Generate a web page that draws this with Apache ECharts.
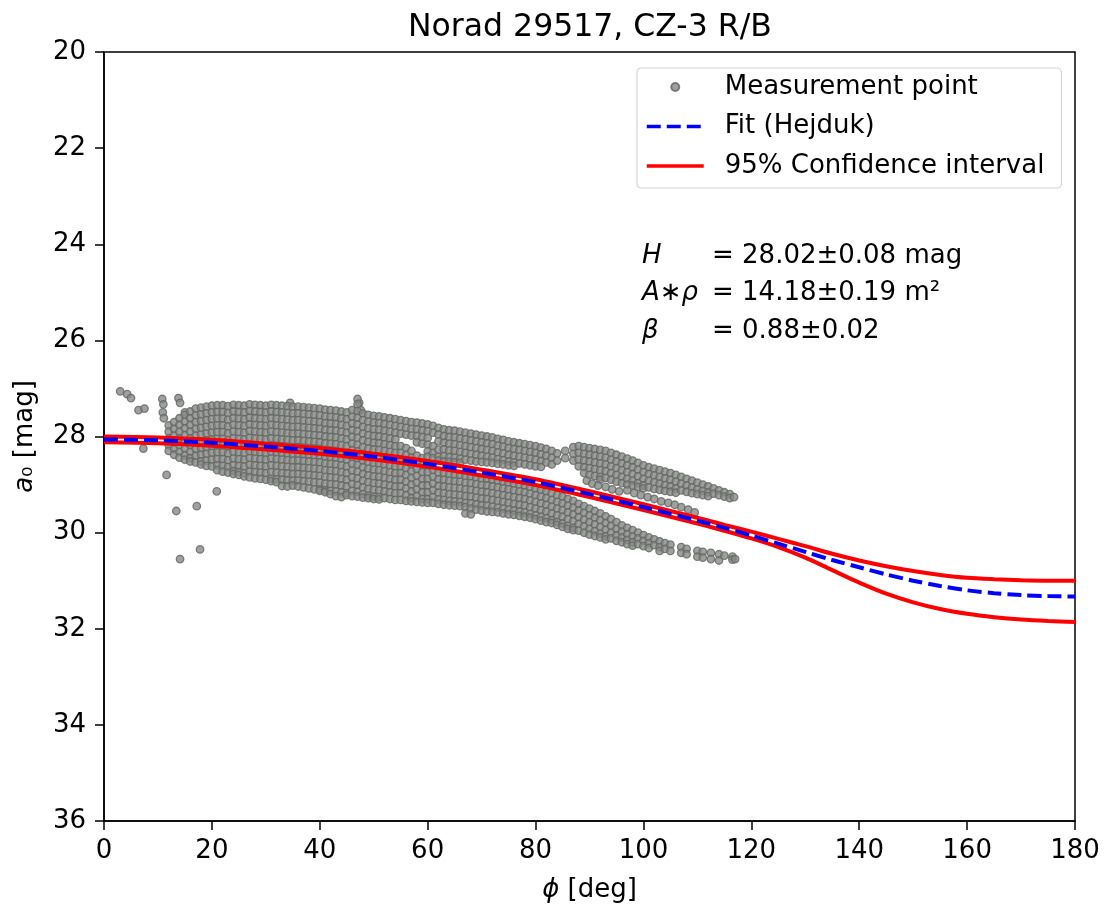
<!DOCTYPE html>
<html><head><meta charset="utf-8">
<script src="https://cdn.jsdelivr.net/npm/echarts@6/dist/echarts.min.js"></script>
<style>html,body{margin:0;padding:0;background:#fff}#chart{width:1104px;height:908px}</style>
</head><body><div id="chart"></div>
<script>
// ---- curve data (phi in deg, a0 in mag) ----
const curvePhi = [0,10,20,30,40,50,60,70,80,90,100,110,115,120,125,130,135,140,145,150,155,160,165,170,175,180];
const fitMag   = [28.06,28.08,28.13,28.21,28.30,28.42,28.57,28.75,28.95,29.20,29.47,29.75,29.90,30.06,30.23,30.40,30.57,30.72,30.87,31.00,31.11,31.20,31.26,31.30,31.32,31.33];
const ciUpper  = [28.00,28.02,28.07,28.15,28.24,28.36,28.51,28.69,28.89,29.14,29.41,29.69,29.84,29.98,30.13,30.28,30.44,30.58,30.70,30.80,30.88,30.94,30.97,30.99,31.00,31.00];
const ciLower  = [28.12,28.14,28.19,28.27,28.36,28.48,28.63,28.81,29.01,29.26,29.53,29.81,29.96,30.12,30.30,30.52,30.78,31.04,31.27,31.45,31.59,31.69,31.76,31.81,31.84,31.86];

// ---- measurement points ----
const outlierPts = [[3.0,27.06],[4.3,27.12],[5.0,27.2],[6.4,27.45],[7.5,27.42],[10.8,27.22],[11.0,27.33],[10.9,27.5],[11.1,27.62],
  [13.8,27.2],[14.1,27.3],[15.0,27.5],[7.3,28.25],[11.6,28.8],[20.9,29.14],[17.2,29.45],[13.4,29.55],[17.8,30.35],[14.1,30.55],
  [34.5,27.3],[47.3,27.3],[47.6,27.45]];
const cloudCols = [
 [12,[27.77,27.9,28.04,28.18,28.3]],
 [13,[27.7,27.84,27.98,28.12,28.26,28.38]],
 [14,[27.62,27.76,27.9,28.04,28.18,28.32,28.44]],
 [15,[27.55,27.69,27.83,27.97,28.11,28.25,28.39,28.48]],
 [16,[27.48,27.62,27.76,27.9,28.04,28.18,28.32,28.45,28.52]],
 [17,[27.42,27.56,27.7,27.84,27.98,28.12,28.26,28.4,28.54]],
 [18,[27.4,27.54,27.68,27.82,27.96,28.1,28.24,28.38,28.52,28.58]],
 [19,[27.38,27.52,27.66,27.8,27.94,28.08,28.22,28.36,28.5,28.61]],
 [20,[27.36,27.5,27.64,27.78,27.92,28.06,28.2,28.34,28.48,28.62]],
 [21,[27.35,27.49,27.63,27.77,27.91,28.05,28.19,28.33,28.47,28.6,28.7]],
 [22,[27.35,27.49,27.63,27.77,27.91,28.05,28.19,28.33,28.47,28.61,28.73]],
 [23,[27.37,27.51,27.65,27.79,27.93,28.07,28.21,28.35,28.49,28.63,28.75]],
 [24,[27.34,27.48,27.62,27.76,27.9,28.04,28.18,28.32,28.46,28.6,28.72,28.78]],
 [25,[27.35,27.49,27.63,27.77,27.91,28.05,28.19,28.33,28.47,28.61,28.74,28.8]],
 [26,[27.36,27.5,27.64,27.78,27.92,28.06,28.2,28.34,28.48,28.62,28.76,28.83]],
 [27,[27.33,27.47,27.61,27.75,27.89,28.03,28.17,28.31,28.45,28.59,28.73,28.85]],
 [28,[27.34,27.48,27.62,27.76,27.9,28.04,28.18,28.32,28.46,28.6,28.74,28.87]],
 [29,[27.35,27.49,27.63,27.77,27.91,28.05,28.19,28.33,28.47,28.61,28.75,28.88]],
 [30,[27.36,27.5,27.64,27.78,27.92,28.06,28.2,28.34,28.48,28.62,28.76,28.9]],
 [31,[27.34,27.48,27.62,27.76,27.9,28.04,28.18,28.32,28.46,28.6,28.74,28.88,28.93]],
 [32,[27.35,27.49,27.63,27.77,27.91,28.05,28.19,28.33,28.47,28.61,28.75,28.89,28.95]],
 [33,[27.36,27.5,27.64,27.78,27.92,28.06,28.2,28.34,28.48,28.62,28.76,28.9,29.03]],
 [34,[27.37,27.51,27.65,27.79,27.93,28.07,28.21,28.35,28.49,28.63,28.77,28.91,29.04]],
 [35,[27.38,27.52,27.66,27.8,27.94,28.08,28.22,28.36,28.5,28.64,28.78,28.92,29.02]],
 [36,[27.38,27.52,27.66,27.8,27.94,28.08,28.22,28.36,28.5,28.64,28.78,28.92,29.04]],
 [37,[27.39,27.53,27.67,27.81,27.95,28.09,28.23,28.37,28.51,28.65,28.79,28.93,29.06]],
 [38,[27.4,27.54,27.68,27.82,27.96,28.1,28.24,28.38,28.52,28.66,28.8,28.94,29.08]],
 [39,[27.41,27.55,27.69,27.83,27.97,28.11,28.25,28.39,28.53,28.67,28.81,28.95,29.1]],
 [40,[27.42,27.56,27.7,27.84,27.98,28.12,28.26,28.4,28.54,28.68,28.82,28.96,29.1,29.13]],
 [41,[27.44,27.58,27.72,27.86,28.0,28.14,28.28,28.42,28.56,28.7,28.84,28.98,29.12,29.16]],
 [42,[27.45,27.59,27.73,27.87,28.01,28.15,28.29,28.43,28.57,28.71,28.85,28.99,29.13,29.2]],
 [43,[27.46,27.6,27.74,27.88,28.02,28.16,28.3,28.44,28.58,28.72,28.86,29.0,29.14,29.24]],
 [44,[27.48,27.62,27.76,27.9,28.04,28.18,28.32,28.46,28.6,28.74,28.88,29.02,29.16,29.26]],
 [45,[27.5,27.64,27.78,27.92,28.06,28.2,28.34,28.48,28.62,28.76,28.9,29.04,29.18,29.22]],
 [46,[27.45,27.59,27.73,27.87,28.01,28.15,28.29,28.43,28.57,28.71,28.85,28.99,29.13,29.24]],
 [47,[27.22,27.33,27.47,27.61,27.75,27.89,28.03,28.17,28.31,28.45,28.59,28.73,28.87,29.01,29.15,29.25]],
 [48,[27.52,27.66,27.8,27.94,28.08,28.22,28.36,28.5,28.64,28.78,28.92,29.06,29.2,29.27]],
 [49,[27.55,27.69,27.83,27.97,28.11,28.25,28.39,28.53,28.67,28.81,28.95,29.09,29.23,29.28]],
 [50,[27.57,27.71,27.85,27.99,28.13,28.27,28.41,28.55,28.69,28.83,28.97,29.11,29.25,29.3]],
 [51,[27.58,27.72,27.86,28.0,28.14,28.28,28.42,28.56,28.7,28.84,28.98,29.12,29.26,29.31]],
 [52,[27.6,27.74,27.88,28.02,28.16,28.3,28.44,28.58,28.72,28.86,29.0,29.14,29.28]],
 [53,[27.62,27.76,27.9,28.04,28.18,28.32,28.46,28.6,28.74,28.88,29.02,29.16,29.3]],
 [54,[27.64,27.78,27.92,28.06,28.2,28.34,28.48,28.62,28.76,28.9,29.04,29.18,29.32]],
 [55,[27.66,27.8,27.94,28.2,28.34,28.48,28.62,28.76,28.9,29.04,29.18,29.32]],
 [56,[27.68,27.82,27.96,28.24,28.38,28.52,28.66,28.8,28.94,29.08,29.22,29.34]],
 [57,[27.7,27.84,27.98,28.3,28.44,28.58,28.72,28.86,29.0,29.14,29.28,29.35]],
 [58,[27.71,27.85,27.99,28.12,28.4,28.54,28.68,28.82,28.96,29.1,29.24,29.36]],
 [59,[27.73,27.87,28.01,28.15,28.45,28.6,28.74,28.88,29.02,29.16,29.3,29.37]]
];
const upperBandCols = [
 [60,[27.75,27.89,28.03,28.17,28.31,28.42]],
 [61,[27.78,27.92,28.2,28.34,28.45]],
 [62,[27.82,27.96,28.1,28.28,28.42,28.5]],
 [63,[27.85,27.99,28.13,28.27,28.41,28.52]],
 [64,[27.87,28.01,28.15,28.29,28.43,28.53]],
 [65,[27.88,28.02,28.16,28.3,28.44,28.54]],
 [66,[27.9,28.04,28.18,28.32,28.46,28.55]],
 [67,[27.92,28.06,28.2,28.34,28.48]],
 [68,[27.94,28.08,28.22,28.36,28.5]],
 [69,[27.96,28.1,28.24,28.38,28.52]],
 [70,[27.98,28.12,28.26,28.4,28.53]],
 [71,[28.0,28.14,28.28,28.42,28.54]],
 [72,[28.02,28.16,28.3,28.44,28.55]],
 [73,[28.05,28.19,28.33,28.47,28.57]],
 [74,[28.07,28.21,28.35,28.49,28.58]],
 [75,[28.1,28.24,28.38,28.52,28.6]],
 [76,[28.12,28.26,28.4,28.54,28.61]],
 [77,[28.14,28.28,28.42,28.56]],
 [78,[28.16,28.3,28.44,28.58]],
 [79,[28.18,28.32,28.46,28.6]],
 [80,[28.2,28.34,28.48,28.62]],
 [81,[28.23,28.37,28.51,28.63]],
 [82,[28.26,28.4,28.54]],
 [83,[28.3,28.44,28.58]],
 [84,[28.35,28.5]],
 [85.5,[28.3,28.45]],
 [87,[28.22,28.36,28.5]],
 [88,[28.2,28.34,28.48,28.62]],
 [89,[28.22,28.36,28.5,28.64,28.76]],
 [90,[28.24,28.38,28.52,28.66,28.8]],
 [91,[28.26,28.4,28.54,28.68,28.82]],
 [92,[28.28,28.42,28.56,28.7,28.84,28.9]],
 [93,[28.3,28.44,28.58,28.72,28.86]],
 [94,[28.34,28.48,28.62,28.76,28.9]],
 [95,[28.38,28.52,28.66,28.8,28.94]],
 [96,[28.42,28.56,28.7,28.84,28.97]],
 [97,[28.46,28.6,28.74,28.88,29.0]],
 [98,[28.5,28.64,28.78,28.92,29.02]],
 [99,[28.55,28.69,28.83,28.97,29.05]],
 [100,[28.6,28.74,28.88,29.02,29.08]],
 [101,[28.64,28.78,28.92,29.06]],
 [102,[28.67,28.81,28.95,29.09]],
 [103,[28.7,28.84,28.98,29.11]],
 [104,[28.73,28.87,29.01,29.13]],
 [105,[28.76,28.9,29.04,29.15]],
 [106,[28.8,28.94,29.08,29.17]],
 [107,[28.84,28.98,29.12]],
 [108,[28.88,29.02,29.15]],
 [109,[28.92,29.06,29.18]],
 [110,[28.96,29.1,29.2]],
 [111,[29.0,29.13,29.22]],
 [112,[29.04,29.16,29.24]],
 [113,[29.08,29.19]],
 [114,[29.12,29.22]],
 [115,[29.16,29.25]],
 [116,[29.2,29.28]],
 [116.8,[29.26]]
];
const middleStrandPts = [[89.5,28.92],[90.5,28.98],[91.6,29.02],[93,29.05],[94.2,29.1],[95.5,29.14],[97,29.12],[98.3,29.18],
  [99.5,29.22],[100.8,29.26],[102,29.3],[103.3,29.35],[104.6,29.38],[105.8,29.42],[107,29.47],[108.3,29.52],[109.5,29.58]];
const lowerBandCols = [
 [60,[28.6,28.74,28.88,29.02,29.16,29.3,29.38]],
 [61,[28.7,28.84,28.98,29.12,29.26,29.38]],
 [62,[28.75,28.89,29.03,29.17,29.31,29.4]],
 [63,[28.76,28.9,29.04,29.18,29.32,29.42]],
 [64,[28.78,28.92,29.06,29.2,29.34,29.43]],
 [65,[28.79,28.93,29.07,29.21,29.35,29.44]],
 [66,[28.8,28.94,29.08,29.22,29.36,29.45]],
 [67,[28.82,28.96,29.1,29.24,29.38,29.47,29.6]],
 [68,[28.83,28.97,29.11,29.25,29.39,29.5,29.62]],
 [69,[28.85,28.99,29.13,29.27,29.41,29.52]],
 [70,[28.87,29.01,29.15,29.29,29.43,29.54]],
 [71,[28.88,29.02,29.16,29.3,29.44,29.56]],
 [72,[28.9,29.04,29.18,29.32,29.46,29.57]],
 [73,[28.92,29.06,29.2,29.34,29.48,29.58]],
 [74,[28.94,29.08,29.22,29.36,29.5,29.6]],
 [75,[28.96,29.1,29.24,29.38,29.52,29.62]],
 [76,[28.98,29.12,29.26,29.4,29.54,29.63]],
 [77,[29.0,29.14,29.28,29.42,29.56,29.65]],
 [78,[29.02,29.16,29.3,29.44,29.58,29.67]],
 [79,[29.05,29.19,29.33,29.47,29.61,29.69]],
 [80,[29.08,29.22,29.36,29.5,29.64,29.72]],
 [81,[29.11,29.25,29.39,29.53,29.67,29.75]],
 [82,[29.14,29.28,29.42,29.56,29.7,29.78]],
 [83,[29.18,29.32,29.46,29.6,29.74,29.8]],
 [84,[29.22,29.36,29.5,29.64,29.78,29.84]],
 [85,[29.25,29.39,29.53,29.67,29.81,29.88]],
 [86,[29.3,29.44,29.58,29.72,29.86,29.92]],
 [87,[29.34,29.48,29.62,29.76,29.9,29.95]],
 [88,[29.4,29.54,29.68,29.82,29.96]],
 [89,[29.45,29.59,29.73,29.87,30.0]],
 [90,[29.5,29.64,29.78,29.92,30.04]],
 [91,[29.55,29.69,29.83,29.97,30.07]],
 [92,[29.6,29.74,29.88,30.02,30.1]],
 [93,[29.66,29.8,29.94,30.08,30.14]],
 [94,[29.72,29.86,30.0,30.12]],
 [95,[29.78,29.92,30.06,30.17]],
 [96,[29.85,29.98,30.1,30.2]],
 [97,[29.9,30.03,30.15,30.24]],
 [98,[29.95,30.08,30.2,30.27]],
 [99,[30.0,30.12,30.24]],
 [100,[30.05,30.17,30.28]],
 [101,[30.1,30.22,30.32]],
 [102,[30.14,30.26]],
 [103,[30.18,30.3,30.38]],
 [104,[30.22,30.34]],
 [105,[30.25,30.38]],
 [107,[30.3,30.42]],
 [108,[30.34,30.45]],
 [110,[30.38,30.5]],
 [111,[30.4,30.52]],
 [112.5,[30.42,30.55]],
 [114,[30.45,30.58]],
 [115,[30.48]],
 [116.5,[30.5,30.56]],
 [117,[30.55]]
];

function expandCols(cols){ const out=[]; cols.forEach(c=>c[1].forEach(m=>out.push([c[0],m]))); return out; }
function pairs(xs, ys){ return xs.map((x,i)=>[x, ys[i]]); }

const measPts = [].concat(outlierPts, expandCols(cloudCols), expandCols(upperBandCols), middleStrandPts, expandCols(lowerBandCols));

const FONT = 'DejaVu Sans';
const chart = echarts.init(document.getElementById('chart'), null, {renderer:'canvas'});
chart.setOption({
  animation:false,
  backgroundColor:'#ffffff',
  title:{ text:'Norad 29517, CZ-3 R/B', left:403, top:7,
    textStyle:{ fontFamily:FONT, fontSize:31.5, fontWeight:'normal', color:'#000' } },
  grid:{ left:104, right:29, top:52, bottom:83, show:true, borderColor:'#000', borderWidth:1.5, backgroundColor:'transparent' },
  legend:{
    orient:'vertical', left:637, top:68,
    padding:[6,17,9,8], itemGap:13.5, itemWidth:57, itemHeight:8,
    backgroundColor:'rgba(255,255,255,0.8)', borderColor:'#d4d4d4', borderWidth:1.2, borderRadius:4,
    textStyle:{ fontFamily:FONT, fontSize:26, color:'#000', lineHeight:26, padding:[0,0,0,16] },
    data:[
      { name:'Measurement point' },
      { name:'Fit (Hejduk)', itemStyle:{ opacity:0 }, lineStyle:{ width:3.5, type:[14,6] } },
      { name:'95% Confidence interval', itemStyle:{ opacity:0 }, lineStyle:{ width:3.5 } }
    ]
  },
  xAxis:{
    type:'value', min:0, max:180, interval:20,
    name:'{i|ϕ} [deg]', nameLocation:'middle', nameGap:56,
    nameTextStyle:{ fontFamily:FONT, fontSize:26, color:'#000', rich:{ i:{ fontFamily:FONT, fontSize:26, fontStyle:'italic', color:'#000' } } },
    axisLine:{ show:true, onZero:false, lineStyle:{ color:'#000', width:1.5 } },
    axisTick:{ show:true, inside:false, length:9, lineStyle:{ color:'#000', width:1.5 } },
    axisLabel:{ fontFamily:FONT, fontSize:26, color:'#000', margin:17 },
    splitLine:{ show:false }
  },
  yAxis:{
    type:'value', inverse:true, min:20, max:36, interval:2,
    name:'{i|a}₀ [mag]', nameLocation:'middle', nameGap:66, nameRotate:90,
    nameTextStyle:{ fontFamily:FONT, fontSize:26, color:'#000', rich:{ i:{ fontFamily:FONT, fontSize:26, fontStyle:'italic', color:'#000' } } },
    axisLine:{ show:true, onZero:false, lineStyle:{ color:'#000', width:1.5 } },
    axisTick:{ show:true, inside:false, length:9, lineStyle:{ color:'#000', width:1.5 } },
    axisLabel:{ fontFamily:FONT, fontSize:26, color:'#000', margin:18 },
    splitLine:{ show:false }
  },
  series:[
    { name:'Measurement point', type:'scatter', data:measPts, symbol:'circle', symbolSize:7.5, z:2,
      itemStyle:{ color:'#868985', borderColor:'#616561', borderWidth:1.3 }, emphasis:{disabled:true} },
    { name:'95% Confidence interval', type:'line', data:pairs(curvePhi, ciUpper), smooth:0.3, symbol:'none', showSymbol:false, z:3,
      lineStyle:{ color:'#ff0000', width:4 }, itemStyle:{ color:'#ff0000' } },
    { name:'95% Confidence interval', type:'line', data:pairs(curvePhi, ciLower), smooth:0.3, symbol:'none', showSymbol:false, z:3,
      lineStyle:{ color:'#ff0000', width:4 }, itemStyle:{ color:'#ff0000' } },
    { name:'Fit (Hejduk)', type:'line', data:pairs(curvePhi, fitMag), smooth:0.3, symbol:'none', showSymbol:false, z:4,
      lineStyle:{ color:'#0000ff', width:4, type:[14,6] }, itemStyle:{ color:'#0000ff' } }
  ],
  graphic:[
    { type:'text', left:642, top:243, style:{ text:'H', font:'italic 26px "DejaVu Sans"', fill:'#000' } },
    { type:'text', left:712, top:243, style:{ text:'= 28.02±0.08 mag', font:'26px "DejaVu Sans"', fill:'#000' } },
    { type:'text', left:642, top:280, style:{ text:'{i|A}{n|∗}{i|ρ}', rich:{ i:{ font:'italic 26px "DejaVu Sans"', fill:'#000' }, n:{ font:'26px "DejaVu Sans"', fill:'#000' } } } },
    { type:'text', left:712, top:280, style:{ text:'= 14.18±0.19 m²', font:'26px "DejaVu Sans"', fill:'#000' } },
    { type:'text', left:642, top:318, style:{ text:'β', font:'italic 26px "DejaVu Sans"', fill:'#000' } },
    { type:'text', left:712, top:318, style:{ text:'= 0.88±0.02', font:'26px "DejaVu Sans"', fill:'#000' } }
  ]
});
</script>
</body></html>
